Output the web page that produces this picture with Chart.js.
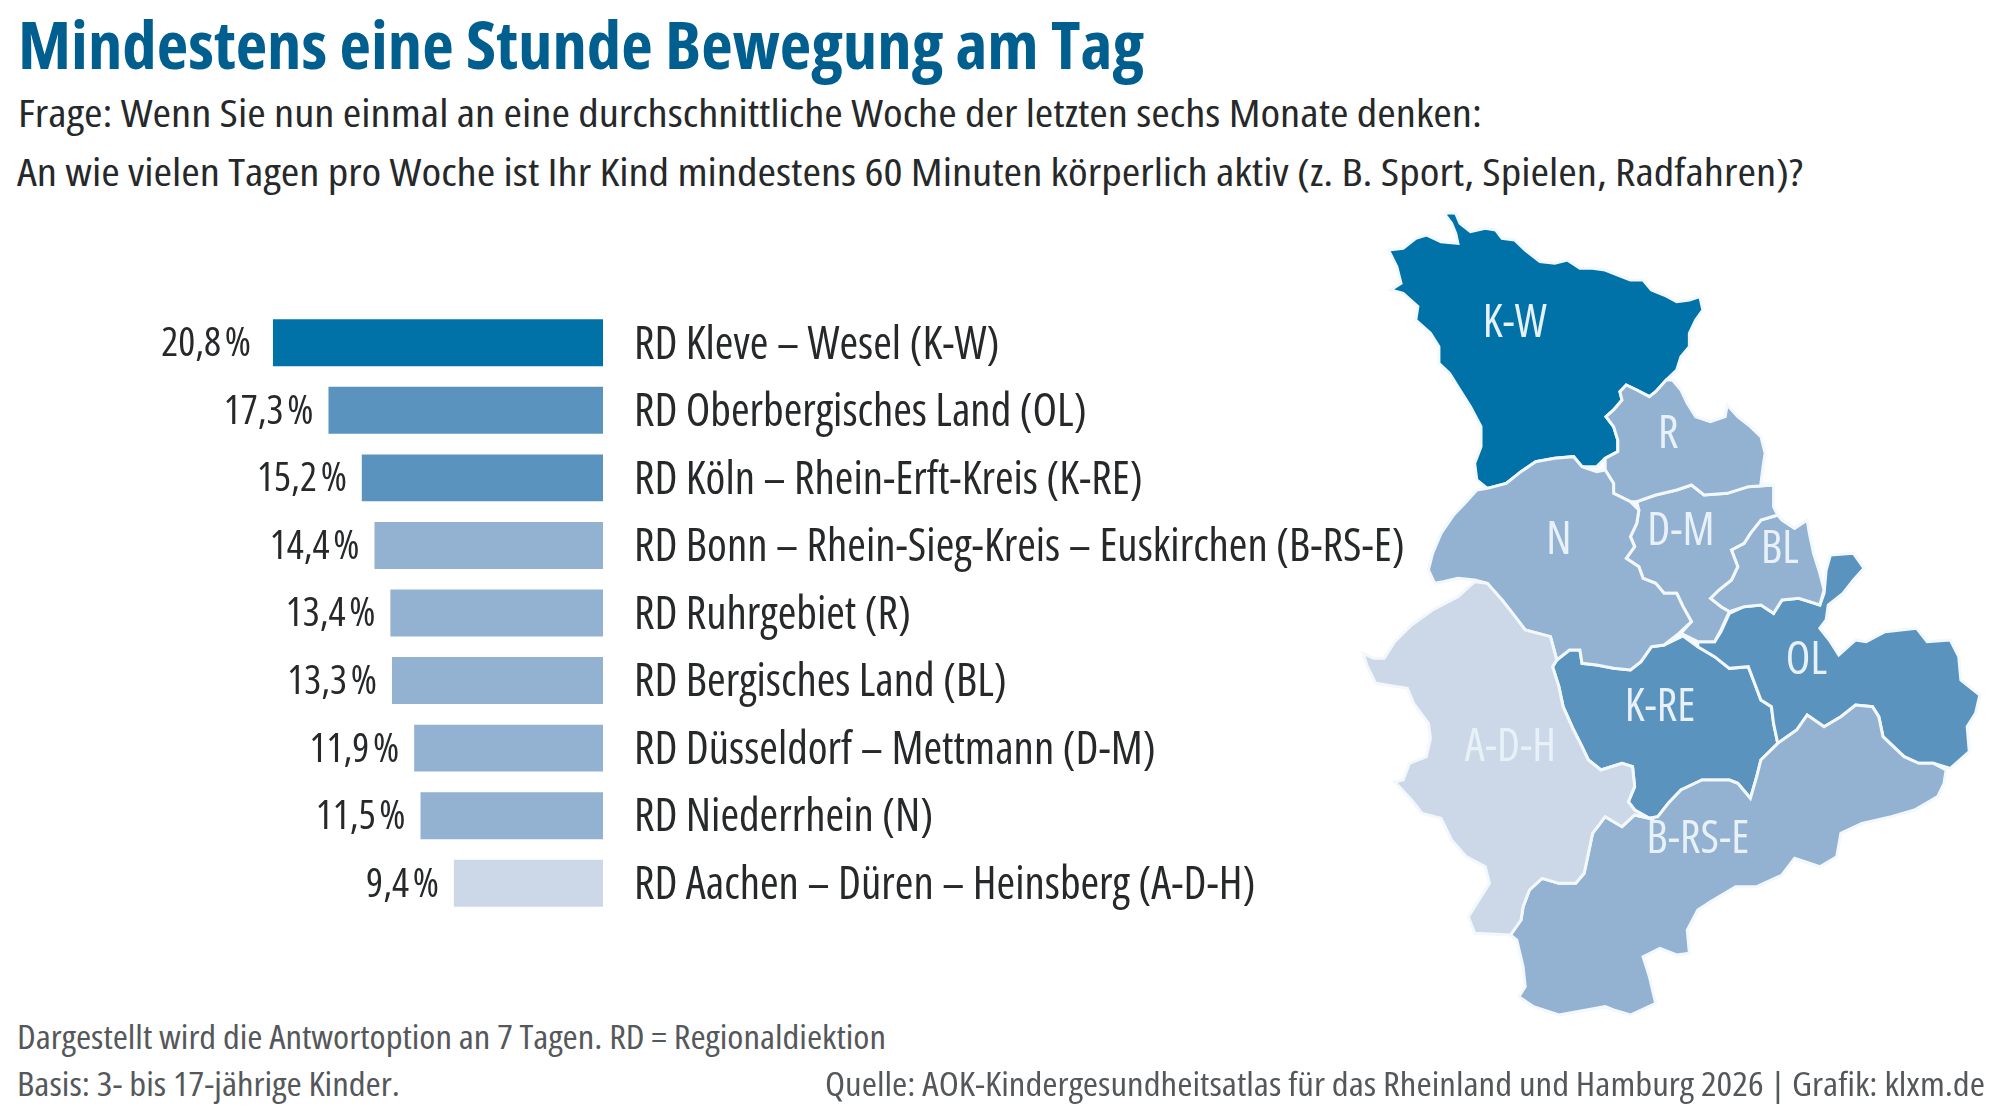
<!DOCTYPE html>
<html lang="de">
<head>
<meta charset="utf-8">
<title>Mindestens eine Stunde Bewegung am Tag</title>
<script src="https://cdn.jsdelivr.net/npm/chart.js@4"></script>
<style>
    html, body { margin: 0; padding: 0; background: #fff; }
    body { width: 2000px; height: 1112px; position: relative; overflow: hidden; font-family: "Open Sans", sans-serif; font-stretch: condensed; }
    .txt { position: absolute; white-space: nowrap; transform-origin: left center; line-height: 1; }
    #title { left: 18px; top: 10px; font-size: 66px; font-weight: 700; color: #005f8f; }
    .sub { font-size: 38px; color: #26282a; }
    .foot { font-size: 33px; color: #55585b; }
    #bars { position: absolute; left: 0; top: 259px; }
    #map { position: absolute; left: 1340px; top: 200px; }
</style>
</head>
<body>
<div class="txt" id="title" data-w="1126">Mindestens eine Stunde Bewegung am Tag</div>
<div class="txt sub" style="left:18px;top:93px" data-w="1464">Frage: Wenn Sie nun einmal an eine durchschnittliche Woche der letzten sechs Monate denken:</div>
<div class="txt sub" style="left:17px;top:152px" data-w="1786">An wie vielen Tagen pro Woche ist Ihr Kind mindestens 60 Minuten körperlich aktiv (z. B. Sport, Spielen, Radfahren)?</div>
<canvas id="bars" width="1420" height="708"></canvas>
<canvas id="map" width="660" height="912"></canvas>
<div class="txt foot" style="left:17px;top:1020px" data-w="869">Dargestellt wird die Antwortoption an 7 Tagen. RD = Regionaldiektion</div>
<div class="txt foot" style="left:17px;top:1067px" data-w="383">Basis: 3- bis 17-jährige Kinder.</div>
<div class="txt foot" style="left:825px;top:1067px" data-w="1160">Quelle: AOK-Kindergesundheitsatlas für das Rheinland und Hamburg 2026 | Grafik: klxm.de</div>
<script>
// ===== DATEN: BALKEN =====

const categories = [
    'RD Kleve – Wesel (K-W)',
    'RD Oberbergisches Land (OL)',
    'RD Köln – Rhein-Erft-Kreis (K-RE)',
    'RD Bonn – Rhein-Sieg-Kreis – Euskirchen (B-RS-E)',
    'RD Ruhrgebiet (R)',
    'RD Bergisches Land (BL)',
    'RD Düsseldorf – Mettmann (D-M)',
    'RD Niederrhein (N)',
    'RD Aachen – Düren – Heinsberg (A-D-H)'
];
const values = [20.8, 17.3, 15.2, 14.4, 13.4, 13.3, 11.9, 11.5, 9.4];
const barColors = ['#0072a8', '#5b93bf', '#5b93bf', '#93b1d1', '#93b1d1', '#93b1d1', '#93b1d1', '#93b1d1', '#ccd8e8'];

const regionKW = [[255,38],[275,40],[285,70],[310,95],[345,85],[370,90],[385,115],[415,120],[440,150],[475,185],[510,190],[540,180],[570,205],[600,205],[630,210],[660,225],[690,240],[720,240],[740,270],[770,285],[800,305],[830,300],[855,290],[862,330],[845,360],[830,400],[830,440],[810,470],[800,510],[775,540],[750,575],[735,590],[705,570],[680,555],[665,575],[670,600],[650,630],[632,650],[650,680],[660,720],[660,755],[630,775],[610,800],[575,800],[555,770],[510,775],[465,785],[430,815],[395,850],[350,865],[325,840],[320,790],[335,740],[335,680],[310,620],[285,570],[260,520],[235,490],[235,440],[215,400],[180,360],[185,320],[150,280],[120,270],[145,250],[135,200],[115,150],[150,145],[180,115],[205,105],[240,125],[280,130],[275,100],[265,70],[250,45],[255,38]];
const regionR = [[790,540],[775,540],[750,575],[735,590],[705,570],[680,555],[665,575],[670,600],[650,630],[632,650],[650,680],[660,720],[660,755],[630,775],[630,810],[650,850],[650,880],[690,905],[705,905],[750,885],[800,870],[835,855],[865,885],[920,880],[970,860],[1030,855],[1000,850],[1005,800],[1010,760],[1000,710],[975,680],[945,650],[920,615],[915,650],[880,665],[845,650],[825,610],[810,570],[790,540]];
const regionN = [[325,870],[350,865],[395,850],[430,815],[465,785],[510,775],[555,770],[575,800],[610,815],[630,810],[650,850],[650,880],[690,905],[710,930],[705,970],[690,1010],[700,1040],[680,1075],[710,1100],[720,1135],[750,1150],[770,1180],[800,1180],[815,1220],[835,1265],[805,1300],[770,1335],[740,1340],[715,1385],[690,1410],[650,1405],[610,1395],[575,1390],[570,1350],[545,1350],[515,1380],[500,1310],[440,1290],[410,1240],[385,1200],[350,1150],[320,1140],[280,1135],[245,1145],[225,1150],[210,1110],[220,1060],[240,1000],[270,945],[300,905],[325,870]];
const regionDM = [[705,905],[750,885],[800,870],[835,855],[865,885],[920,880],[970,860],[1030,855],[1030,920],[1040,945],[1000,960],[975,1000],[960,1030],[930,1050],[945,1100],[930,1140],[900,1170],[880,1195],[905,1220],[925,1235],[905,1290],[890,1325],[850,1325],[810,1300],[835,1265],[815,1220],[800,1180],[770,1180],[750,1150],[720,1135],[710,1100],[680,1075],[700,1040],[690,1010],[705,970],[710,930],[705,905]];
const regionBL = [[1040,945],[1000,960],[975,1000],[960,1030],[930,1050],[945,1100],[930,1140],[900,1170],[880,1195],[905,1220],[925,1235],[960,1220],[1000,1215],[1030,1240],[1050,1200],[1090,1195],[1140,1215],[1150,1170],[1140,1120],[1125,1060],[1115,1000],[1110,960],[1080,985],[1050,960],[1040,945]];
const regionOL = [[1165,1065],[1220,1060],[1245,1105],[1220,1140],[1195,1180],[1160,1215],[1155,1260],[1140,1285],[1165,1325],[1185,1365],[1225,1320],[1250,1325],[1295,1295],[1370,1285],[1395,1325],[1450,1320],[1470,1370],[1475,1440],[1520,1485],[1510,1540],[1490,1580],[1495,1655],[1450,1705],[1410,1690],[1375,1690],[1340,1670],[1290,1610],[1280,1550],[1265,1520],[1225,1515],[1190,1550],[1150,1580],[1110,1545],[1085,1590],[1040,1630],[1030,1570],[1025,1520],[1000,1500],[985,1450],[970,1400],[925,1405],[890,1370],[850,1340],[850,1325],[890,1325],[905,1295],[925,1240],[960,1220],[1000,1215],[1030,1240],[1050,1200],[1090,1195],[1140,1215],[1150,1180],[1155,1110],[1165,1065]];
const regionKRE = [[815,1308],[850,1340],[890,1370],[925,1405],[970,1400],[985,1450],[1000,1500],[1025,1520],[1030,1570],[1040,1630],[1000,1680],[990,1730],[975,1795],[945,1750],[925,1740],[860,1740],[810,1770],[780,1810],[755,1850],[735,1855],[700,1830],[685,1805],[700,1760],[695,1700],[670,1690],[620,1710],[590,1680],[575,1640],[555,1590],[530,1520],[520,1460],[505,1400],[515,1380],[545,1350],[570,1350],[575,1390],[610,1395],[650,1405],[690,1410],[715,1385],[740,1340],[770,1335],[815,1308]];
const regionADH = [[385,1200],[410,1240],[440,1290],[500,1310],[515,1380],[505,1400],[520,1460],[530,1520],[555,1590],[575,1640],[590,1680],[620,1710],[670,1690],[695,1700],[700,1760],[685,1805],[700,1830],[735,1855],[700,1845],[670,1880],[630,1850],[600,1900],[590,1960],[580,2020],[560,2050],[520,2050],[480,2035],[450,2070],[435,2120],[430,2160],[405,2205],[320,2200],[305,2150],[325,2110],[355,2050],[345,2000],[300,1970],[265,1920],[240,1855],[195,1840],[170,1800],[130,1745],[150,1740],[165,1690],[205,1670],[215,1615],[210,1570],[175,1510],[160,1465],[85,1450],[65,1400],[55,1360],[80,1375],[105,1375],[130,1325],[170,1275],[220,1230],[280,1190],[320,1145],[350,1150],[385,1200]];
const regionBRSE = [[735,1855],[755,1850],[780,1810],[810,1770],[860,1740],[925,1740],[945,1750],[975,1795],[990,1730],[1000,1680],[1040,1630],[1085,1590],[1110,1545],[1150,1580],[1190,1550],[1225,1515],[1265,1520],[1280,1550],[1290,1610],[1340,1670],[1375,1690],[1410,1690],[1440,1710],[1435,1750],[1420,1790],[1365,1830],[1310,1850],[1240,1870],[1190,1900],[1180,1970],[1140,2000],[1080,1975],[1050,2025],[990,2060],[940,2060],[880,2105],[850,2130],[825,2190],[830,2260],[800,2265],[760,2245],[720,2270],[735,2330],[750,2410],[690,2445],[650,2430],[630,2420],[520,2445],[460,2420],[425,2390],[440,2360],[435,2300],[420,2220],[405,2205],[430,2160],[435,2120],[450,2070],[480,2035],[520,2050],[560,2050],[580,2020],[590,1960],[600,1900],[630,1850],[670,1880],[700,1845],[735,1855]];

const mapRegions = [regionADH, regionBRSE, regionN, regionR, regionDM, regionBL, regionOL, regionKRE, regionKW];
const mapColors = ['#ccd8e8', '#93b1d1', '#93b1d1', '#93b1d1', '#93b1d1', '#93b1d1', '#5b93bf', '#5b93bf', '#0072a8'];

const mapLabels = ['K-W', 'R', 'N', 'D-M', 'BL', 'OL', 'K-RE', 'A-D-H', 'B-RS-E'];
const mapLabelX = [415, 780, 520, 810, 1045, 1108, 760, 405, 850];
const mapLabelY = [372, 707, 1025, 998, 1050, 1385, 1525, 1645, 1920];

const FONT_FAMILY = '"Open Sans", sans-serif';
const LABEL_COLOR = '#26282a';

// ===== TEXTBREITEN AN DAS ORIGINAL ANPASSEN =====

document.querySelectorAll('.txt').forEach(el => {
    const target = Number(el.dataset.w);
    const actual = el.getBoundingClientRect().width;
    el.style.transform = `scaleX(${target / actual})`;
});

// ===== PLUGINS =====

const valueLabelPlugin = {
    id: 'valueLabels',
    afterDatasetsDraw(chart) {
        const { ctx } = chart;
        const meta = chart.getDatasetMeta(0);
        ctx.save();
        ctx.font = `condensed 40px ${FONT_FAMILY}`;
        ctx.fillStyle = LABEL_COLOR;
        ctx.textAlign = 'right';
        ctx.textBaseline = 'middle';
        meta.data.forEach((bar, i) => {
            const text = values[i].toFixed(1).replace('.', ',') + '\u202f%';
            // der erste Wert steht im Original etwas weiter vom Balken weg
            ctx.fillText(text, bar.x - (i === 0 ? 22 : 15), bar.y + 2);
        });
        ctx.restore();
    }
};

const mapLabelPlugin = {
    id: 'mapLabels',
    afterDatasetsDraw(chart) {
        const { ctx, scales } = chart;
        ctx.save();
        ctx.font = `condensed 45px ${FONT_FAMILY}`;
        ctx.fillStyle = '#e8f1f8';
        ctx.textAlign = 'center';
        ctx.textBaseline = 'middle';
        mapLabels.forEach((label, i) => {
            ctx.fillText(label, scales.x.getPixelForValue(mapLabelX[i]), scales.y.getPixelForValue(mapLabelY[i]));
        });
        ctx.restore();
    }
};

// ===== BALKENDIAGRAMM =====

new Chart(document.getElementById('bars'), {
    type: 'bar',
    data: {
        labels: categories,
        datasets: [{
            data: values,
            backgroundColor: barColors,
            categoryPercentage: 1,
            barPercentage: 0.695
        }]
    },
    options: {
        indexAxis: 'y',
        responsive: false,
        animation: false,
        layout: { padding: { top: 0, bottom: 0, left: 0, right: 0 } },
        plugins: { legend: { display: false }, tooltip: { enabled: false } },
        scales: {
            x: { reverse: true, min: 0, max: 38, display: false },
            y: {
                position: 'right',
                afterFit(axis) { axis.width = 817; },
                grid: { display: false },
                border: { display: false },
                ticks: {
                    color: LABEL_COLOR,
                    padding: 23,
                    labelOffset: 3,
                    font: { family: FONT_FAMILY, size: 45, weight: 'condensed' }
                }
            }
        }
    },
    plugins: [valueLabelPlugin]
});

// ===== KARTE =====

new Chart(document.getElementById('map'), {
    type: 'scatter',
    data: {
        datasets: mapRegions.map((region, i) => ({
            data: region.map(([x, y]) => ({ x, y })),
            showLine: true,
            fill: 'shape',
            backgroundColor: mapColors[i],
            borderColor: '#f2f8fc',
            borderWidth: 3,
            pointRadius: 0,
            tension: 0,
            clip: false
        }))
    },
    options: {
        responsive: false,
        animation: false,
        plugins: { legend: { display: false }, tooltip: { enabled: false } },
        scales: {
            x: { type: 'linear', min: 0, max: 1568, display: false },
            y: { type: 'linear', reverse: true, min: 0, max: 2736, display: false }
        }
    },
    plugins: [mapLabelPlugin]
});
</script>
</body>
</html>
